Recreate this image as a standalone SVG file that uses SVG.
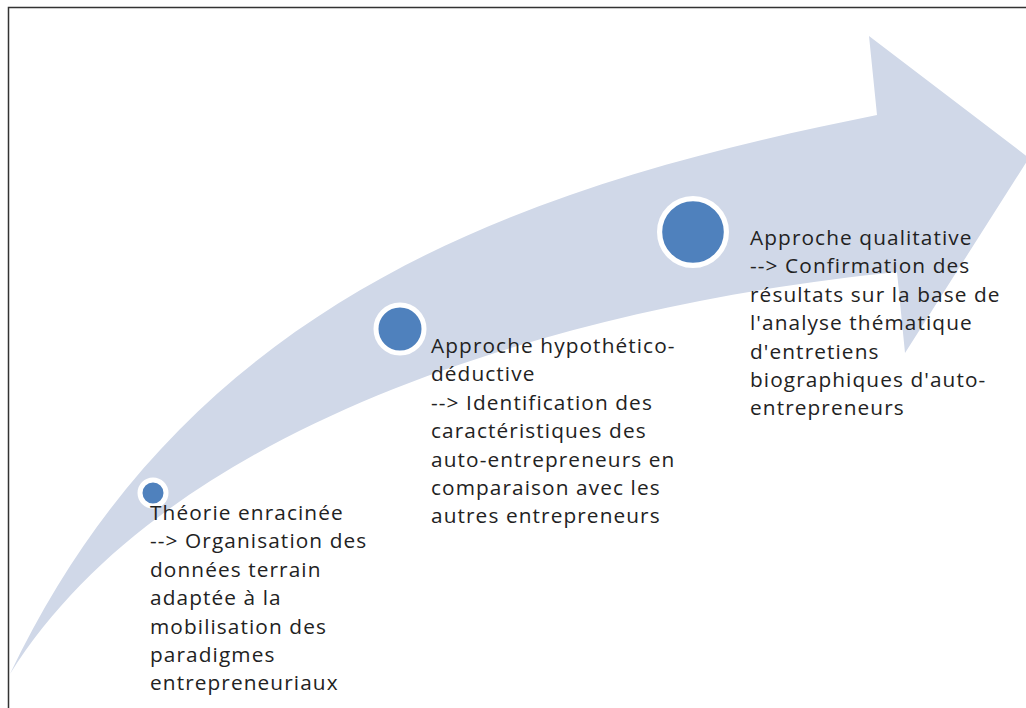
<svg xmlns="http://www.w3.org/2000/svg" width="1026" height="708" viewBox="0 0 1026 708">
<style>
.lbl{font-family:"Open Sans","Liberation Sans",sans-serif;font-size:20.8px;letter-spacing:1.1px;fill:#222222}
.dot{fill:#4F81BD;stroke:#ffffff}
</style>
<rect x="0" y="0" width="1026" height="708" fill="#ffffff"/>
<g id="arrow">
<path d="M10,674 C190,296 527,185 877,115 L869,36 L1029,158 L905,353 L897,272 C597,302 175,410 10,674 Z" fill="#D0D8E8"/>
</g>
<path id="frame" d="M8.5,708 V7.5 H1026" fill="none" stroke="#333333" stroke-width="1.5"/>
<g id="connectors"></g>
<g id="node1">
<circle class="dot" cx="153" cy="493" r="13" stroke-width="5"/>
<text class="lbl" x="150" y="520"><tspan x="150">Théorie enracinée</tspan><tspan x="150" dy="28.4">--&gt; Organisation des</tspan><tspan x="150" dy="28.4">données terrain</tspan><tspan x="150" dy="28.4">adaptée à la</tspan><tspan x="150" dy="28.4">mobilisation des</tspan><tspan x="150" dy="28.4">paradigmes</tspan><tspan x="150" dy="28.4">entrepreneuriaux</tspan></text>
</g>
<g id="node2">
<circle class="dot" cx="400" cy="329" r="24" stroke-width="5"/>
<text class="lbl" x="431" y="353"><tspan x="431">Approche hypothético-</tspan><tspan x="431" dy="28.4">déductive</tspan><tspan x="431" dy="28.4">--&gt; Identification des</tspan><tspan x="431" dy="28.4">caractéristiques des</tspan><tspan x="431" dy="28.4">auto-entrepreneurs en</tspan><tspan x="431" dy="28.4">comparaison avec les</tspan><tspan x="431" dy="28.4">autres entrepreneurs</tspan></text>
</g>
<g id="node3">
<circle class="dot" cx="693" cy="232" r="33.4" stroke-width="5.2"/>
<text class="lbl" x="750" y="245"><tspan x="750">Approche qualitative</tspan><tspan x="750" dy="28.4">--&gt; Confirmation des</tspan><tspan x="750" dy="28.4">résultats sur la base de</tspan><tspan x="750" dy="28.4">l'analyse thématique</tspan><tspan x="750" dy="28.4">d'entretiens</tspan><tspan x="750" dy="28.4">biographiques d'auto-</tspan><tspan x="750" dy="28.4">entrepreneurs</tspan></text>
</g>
</svg>
